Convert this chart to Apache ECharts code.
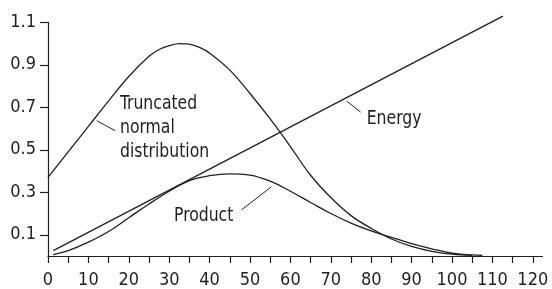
<!DOCTYPE html>
<html>
<head>
<meta charset="utf-8">
<script src="https://cdn.jsdelivr.net/npm/echarts@6/dist/echarts.min.js"></script>
<style>
  html, body { margin: 0; padding: 0; background: #fff; }
  #chart { width: 552px; height: 289px; }
</style>
</head>
<body>
<div id="chart"></div>
<script>
// values
const normalX = [0, 5, 10, 15, 20, 25, 27.5, 30, 32.5, 35, 37.5, 40, 45, 50, 55, 60, 65, 70, 75, 80, 85, 90, 95, 100, 105];
const normalY = [0.37, 0.49, 0.61, 0.73, 0.845, 0.94, 0.972, 0.99, 1.0, 0.997, 0.982, 0.955, 0.875, 0.765, 0.645, 0.515, 0.38, 0.275, 0.19, 0.13, 0.08, 0.045, 0.022, 0.009, 0.003];

const productX = [1.3, 5, 10, 15, 20, 25, 30, 35, 40, 45, 50, 55, 60, 65, 70, 75, 80, 85, 90, 95, 100, 105, 107.5];
const productY = [0.006, 0.025, 0.065, 0.115, 0.18, 0.245, 0.305, 0.355, 0.378, 0.387, 0.381, 0.352, 0.305, 0.252, 0.2, 0.155, 0.118, 0.088, 0.058, 0.034, 0.013, 0.005, 0.003];

const energyX = [1.3, 112.6];
const energyY = [0.025, 1.129];

const xTicks = [0, 5, 10, 15, 20, 25, 30, 35, 40, 45, 50, 55, 60, 65, 70, 75, 80, 85, 90, 95, 100, 105, 110, 115, 120];
const xLabels = [0, 10, 20, 30, 40, 50, 60, 70, 80, 90, 100, 110, 120];
const yTicks = [0.1, 0.3, 0.5, 0.7, 0.9, 1.1];

const ink = "#231f20";
const font = '"DejaVu Sans Condensed", "Liberation Sans Narrow", sans-serif';

function pairs(xs, ys) {
  return xs.map((x, i) => [x, ys[i]]);
}

function leader(a, b) {
  return {
    symbol: ["none", "none"],
    silent: true,
    animation: false,
    label: { show: false },
    lineStyle: { color: ink, width: 1, type: "solid" },
    data: [[{ coord: a }, { coord: b }]]
  };
}

// annotation text, squeezed a little to look like the condensed face of the original
function note(text, x, y) {
  return {
    type: "text",
    x: x,
    y: y,
    scaleX: 0.87,
    style: { text: text, font: "20px " + font, fill: ink, verticalAlign: "middle" }
  };
}

const chart = echarts.init(document.getElementById("chart"));

chart.setOption({
  animation: false,
  grid: { left: 48, right: 9.5, top: 22.3, bottom: 30.7 },
  xAxis: {
    type: "value",
    min: 0,
    max: 122.4,
    splitLine: { show: false },
    axisLine: { lineStyle: { color: ink, width: 1.2 } },
    axisTick: { customValues: xTicks, length: 7, lineStyle: { color: ink, width: 1.2 } },
    axisLabel: {
      customValues: xLabels,
      margin: 15,
      color: ink,
      fontSize: 18,
      fontFamily: font
    }
  },
  yAxis: {
    type: "value",
    min: 0,
    max: 1.1,
    splitLine: { show: false },
    axisLine: { show: true, lineStyle: { color: ink, width: 1.2 } },
    axisTick: { show: true, customValues: yTicks, length: 8, lineStyle: { color: ink, width: 1.2 } },
    axisLabel: {
      customValues: yTicks,
      margin: 12,
      color: ink,
      fontSize: 18,
      fontFamily: font,
      formatter: v => v.toFixed(1)
    }
  },
  series: [
    {
      name: "Truncated normal distribution",
      type: "line",
      smooth: 0.4,
      symbol: "none",
      lineStyle: { color: ink, width: 1.3 },
      data: pairs(normalX, normalY),
      markLine: leader([12.05, 0.637], [16.6, 0.59])
    },
    {
      name: "Product",
      type: "line",
      smooth: 0.4,
      symbol: "none",
      lineStyle: { color: ink, width: 1.3 },
      data: pairs(productX, productY),
      markLine: leader([55.3, 0.326], [47.9, 0.217])
    },
    {
      name: "Energy",
      type: "line",
      symbol: "none",
      clip: false,
      lineStyle: { color: ink, width: 1.3 },
      data: pairs(energyX, energyY),
      markLine: leader([73.9, 0.73], [77.4, 0.677])
    }
  ],
  graphic: [
    note("Truncated", 120, 103.7),
    note("normal", 120, 128),
    note("distribution", 120, 152),
    note("Energy", 366.7, 118.5),
    note("Product", 174, 216)
  ]
});
</script>
</body>
</html>
